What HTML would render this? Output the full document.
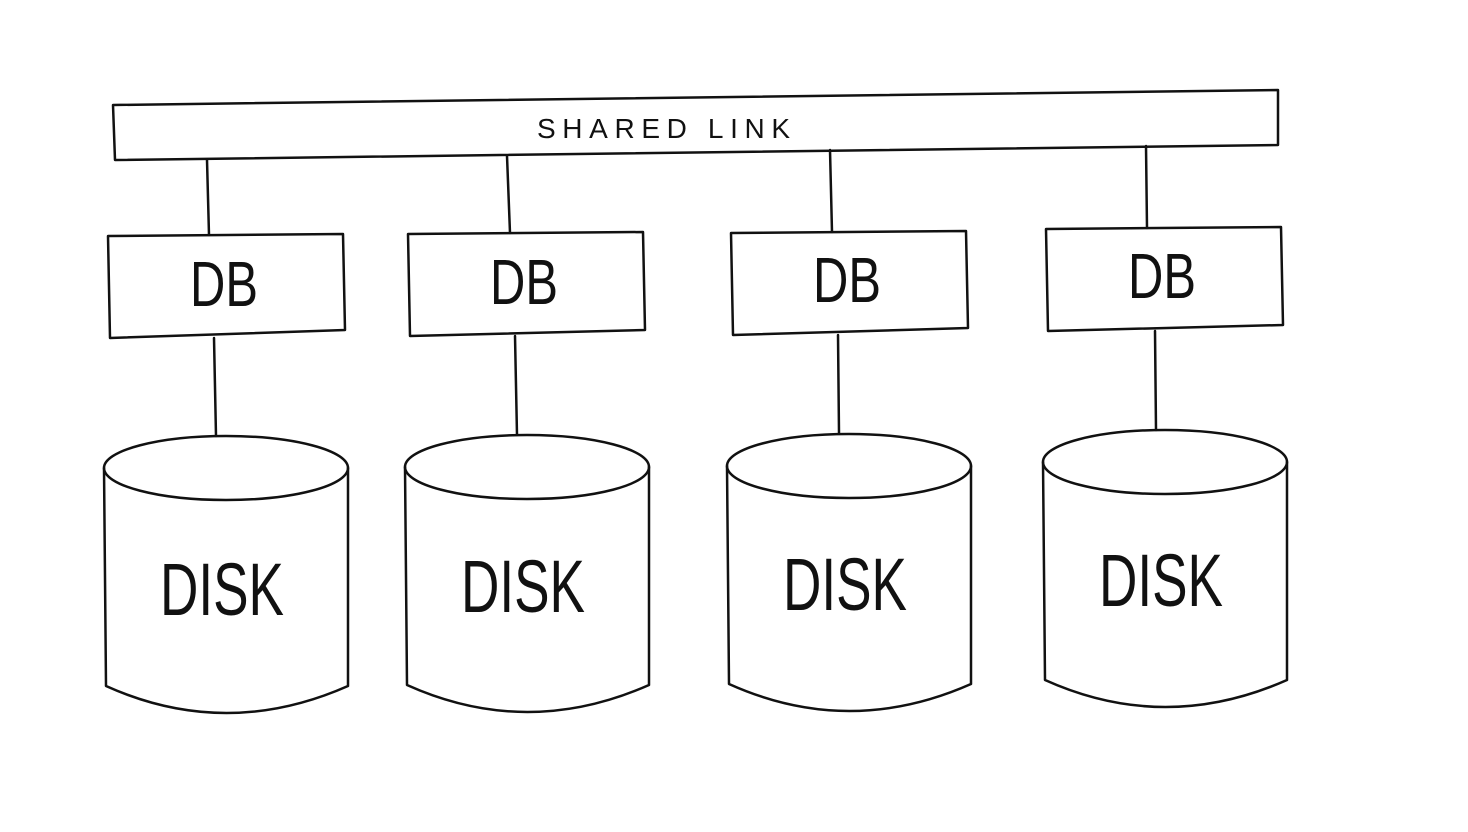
<!DOCTYPE html>
<html><head><meta charset="utf-8"><style>html,body{margin:0;padding:0;background:#fff}svg{display:block}</style></head>
<body>
<svg width="1468" height="832" viewBox="0 0 1468 832" xmlns="http://www.w3.org/2000/svg">
<g fill="none" stroke="#111" stroke-width="2.5" stroke-linecap="round" stroke-linejoin="round">
<path d="M113,105 L1278,90 L1278,145 L115,160 Z"/>
<path d="M207,160 L209,235 M507,156 L510,233 M830,150 L832,232 M1146,146 L1147,228"/>
<path d="M108,236 L343,234 L345,330 L110,338 Z"/>
<path d="M408,234 L643,232 L645,330 L410,336 Z"/>
<path d="M731,233 L966,231 L968,328 L733,335 Z"/>
<path d="M1046,229 L1281,227 L1283,325 L1048,331 Z"/>
<path d="M214,338 L216,436 M515,336 L517,435 M838,335 L839,433 M1155,331 L1156,430"/>
<g id="d">
<ellipse cx="226" cy="468" rx="122" ry="32"/>
<path d="M104,468 L106,686 Q226,740 348,686 L348,468"/>
</g>
<use href="#d" x="301" y="-1"/>
<use href="#d" x="623" y="-2"/>
<use href="#d" x="939" y="-6"/>
</g>
<g font-family="Liberation Sans, sans-serif" fill="#111" text-anchor="start">
<text x="537" y="138" font-size="28" textLength="253" lengthAdjust="spacing">SHARED LINK</text>
<text x="190" y="306" font-size="64" textLength="68" lengthAdjust="spacingAndGlyphs">DB</text>
<text x="490" y="304" font-size="64" textLength="68" lengthAdjust="spacingAndGlyphs">DB</text>
<text x="813" y="302" font-size="64" textLength="68" lengthAdjust="spacingAndGlyphs">DB</text>
<text x="1128" y="298" font-size="64" textLength="68" lengthAdjust="spacingAndGlyphs">DB</text>
<text x="160" y="615" font-size="74" textLength="124" lengthAdjust="spacingAndGlyphs">DISK</text>
<text x="461" y="612" font-size="74" textLength="124" lengthAdjust="spacingAndGlyphs">DISK</text>
<text x="783" y="610" font-size="74" textLength="124" lengthAdjust="spacingAndGlyphs">DISK</text>
<text x="1099" y="606" font-size="74" textLength="124" lengthAdjust="spacingAndGlyphs">DISK</text>
</g>
</svg>
</body></html>
